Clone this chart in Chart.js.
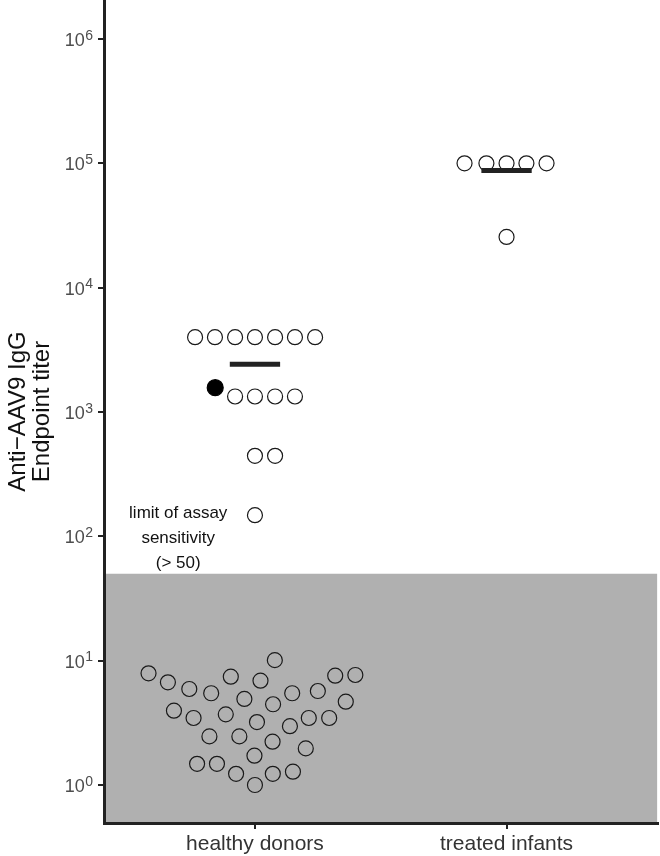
<!DOCTYPE html>
<html>
<head>
<meta charset="utf-8">
<script src="https://cdn.jsdelivr.net/npm/chart.js@4.4.1/dist/chart.umd.min.js"></script>
<style>
  html, body { margin: 0; padding: 0; background: #fff; }
  #wrap { width: 660px; height: 856px; }
</style>
</head>
<body>
<div id="wrap"><canvas id="chart"></canvas></div>
<script>
// categories + tick values
const categories = ["healthy donors", "treated infants"];
const yTickValues = [1, 10, 100, 1000, 10000, 100000, 1000000];
const assayLimit = 50;

// healthy donors above the limit (open circles), x = category position incl. dodge
const donorsX = [0.762, 0.841, 0.921, 1.000, 1.080, 1.159, 1.239,
                 0.921, 1.000, 1.080, 1.159,
                 1.000, 1.080,
                 1.000];
const donorsY = [4000, 4000, 4000, 4000, 4000, 4000, 4000,
                 1333, 1333, 1333, 1333,
                 444, 444,
                 148];

// the one filled donor
const donorFilledX = [0.842];
const donorFilledY = [1570];

// healthy donors below assay limit (inside the grey band)
const belowX = [0.577, 0.654, 0.739, 0.826, 0.904, 0.958, 1.022, 1.079, 1.148, 1.250, 1.319, 1.399,
                0.678, 0.756, 0.884, 1.008, 1.072, 1.139, 1.214, 1.295, 1.361,
                0.819, 0.938, 1.070, 1.202, 0.998,
                0.770, 0.849, 0.925, 1.071, 1.151, 1.000];
const belowY = [7.91, 6.70, 5.92, 5.47, 7.43, 4.92, 6.90, 10.1, 5.47, 5.70, 7.57, 7.67,
                3.96, 3.46, 3.70, 3.21, 4.46, 2.97, 3.46, 3.46, 4.68,
                2.46, 2.46, 2.23, 1.97, 1.72,
                1.48, 1.48, 1.23, 1.23, 1.28, 1.00];

// treated infants
const infantsX = [1.833, 1.920, 2.000, 2.079, 2.159, 2.000];
const infantsY = [100000, 100000, 100000, 100000, 100000, 25600];

// group means (horizontal bars)
const groupMeans = [2420, 87500];

const limitLabelLines = ["limit of assay", "sensitivity", "(> 50)"];

const FONT = '"Liberation Sans", Arial, Helvetica, sans-serif';
const INK = '#1a1a1a';
const BAR_HALF = 0.1;

const zip = (xs, ys) => xs.map((x, i) => ({ x: x, y: ys[i] }));

// label inside the plot, placed through the scales
const limitLabelPlugin = {
  id: 'limitLabel',
  afterDatasetsDraw(chart) {
    const { ctx, scales } = chart;
    const px = scales.x.getPixelForValue(0.695);
    const ys = [154, 97, 61];
    ctx.save();
    ctx.font = '17px ' + FONT;
    ctx.fillStyle = '#111';
    ctx.textAlign = 'center';
    ctx.textBaseline = 'middle';
    limitLabelLines.forEach((t, i) => ctx.fillText(t, px, scales.y.getPixelForValue(ys[i])));
    ctx.restore();
  }
};

// "10" with a raised exponent for every y tick
const powLabelPlugin = {
  id: 'powLabels',
  afterDraw(chart) {
    const { ctx } = chart;
    const y = chart.scales.y;
    const right = y.right - 11;
    ctx.save();
    ctx.fillStyle = '#4d4d4d';
    ctx.textAlign = 'right';
    ctx.textBaseline = 'alphabetic';
    y.ticks.forEach(t => {
      const py = y.getPixelForValue(t.value);
      const exp = String(Math.round(Math.log10(t.value)));
      ctx.font = '14px ' + FONT;
      const ew = ctx.measureText(exp).width;
      ctx.fillText(exp, right, py + 0.5);
      ctx.font = '18px ' + FONT;
      ctx.fillText('10', right - ew - 0.5, py + 7);
    });
    ctx.restore();
  }
};

Chart.defaults.font.family = FONT;

const pointStyle = {
  pointStyle: 'circle',
  pointRadius: 7.5,
  pointHoverRadius: 7.5,
  pointBorderWidth: 1.2,
  pointBorderColor: INK,
  pointBackgroundColor: 'rgba(0,0,0,0)',
  showLine: false,
  order: 2
};

const meanBars = groupMeans.map((m, i) => ({
  type: 'line',
  data: [{ x: i + 1 - BAR_HALF, y: m }, { x: i + 1 + BAR_HALF, y: m }],
  borderColor: '#222',
  borderWidth: 5,
  borderCapStyle: 'butt',
  pointRadius: 0,
  fill: false,
  order: 0
}));

new Chart(document.getElementById('chart'), {
  type: 'scatter',
  data: {
    datasets: [
      {
        type: 'line',
        data: [{ x: 0.4, y: assayLimit }, { x: 2.6, y: assayLimit }],
        fill: 'start',
        backgroundColor: '#b0b0b0',
        borderWidth: 0,
        pointRadius: 0,
        order: 10
      },
      Object.assign({ data: zip(belowX, belowY) }, pointStyle),
      Object.assign({ data: zip(donorsX, donorsY) }, pointStyle),
      Object.assign({ data: zip(infantsX, infantsY) }, pointStyle),
      Object.assign({ data: zip(donorFilledX, donorFilledY) }, pointStyle,
        { pointBackgroundColor: '#000', pointBorderColor: '#000', pointRadius: 8 }),
      ...meanBars
    ]
  },
  options: {
    responsive: true,
    maintainAspectRatio: false,
    animation: false,
    layout: { autoPadding: false, padding: { top: 0, right: 2.5, bottom: 0, left: 0 } },
    plugins: { legend: { display: false }, tooltip: { enabled: false } },
    scales: {
      x: {
        type: 'linear',
        min: 0.4,
        max: 2.6,
        afterBuildTicks: s => { s.ticks = categories.map((c, i) => ({ value: i + 1 })); },
        ticks: {
          callback: v => categories[Math.round(v) - 1],
          font: { size: 21 },
          color: '#333',
          padding: 3,
          maxRotation: 0,
          autoSkip: false
        },
        grid: { drawOnChartArea: false, tickLength: 6, color: '#222', lineWidth: 2 },
        border: { color: '#222', width: 3, z: 1 },
        afterFit: s => { s.height = 33; s.paddingLeft = 0; s.paddingRight = 0; }
      },
      y: {
        type: 'logarithmic',
        min: Math.pow(10, -38 / 124.33),
        max: Math.pow(10, 785 / 124.33),
        afterBuildTicks: s => { s.ticks = yTickValues.map(v => ({ value: v })); },
        ticks: { display: false },
        grid: { drawOnChartArea: false, tickLength: 6, color: '#222', lineWidth: 2 },
        border: { color: '#222', width: 3, z: 1 },
        title: {
          display: true,
          text: ['Anti\u2212AAV9 IgG', 'Endpoint titer'],
          font: { size: 24, lineHeight: 1.0 },
          color: '#111',
          padding: { top: 6, bottom: 0 }
        },
        afterFit: s => { s.width = 104; s.paddingTop = 0; s.paddingBottom = 0; }
      }
    }
  },
  plugins: [limitLabelPlugin, powLabelPlugin]
});
</script>
</body>
</html>
